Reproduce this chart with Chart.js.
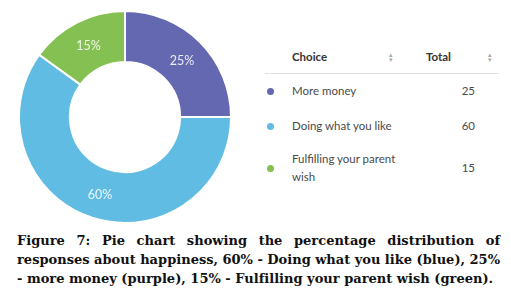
<!DOCTYPE html>
<html>
<head>
<meta charset="utf-8">
<script src="https://cdn.jsdelivr.net/npm/chart.js@4"></script>
<style>
    html, body { margin: 0; padding: 0; background: #fff; }
    body { width: 511px; height: 294px; position: relative; overflow: hidden; }
    #chartBox { position: absolute; left: 18px; top: 10px; width: 214px; height: 214px; }
    #choiceTable { position: absolute; left: 265px; top: 47px; width: 234px; font-family: Lato, sans-serif; font-size: 11.5px; color: #4a4a4a; }
    .hdr { position: relative; height: 26px; border-bottom: 1px solid #e3e3e3; font-weight: bold; color: #333; }
    .hdr span { position: absolute; top: 3px; }
    .sort { color: #aaa; font-size: 7px; font-weight: normal; line-height: 5px; }
    #rows { position: relative; }
    .row { position: absolute; left: 0; width: 234px; }
    .row .dot { position: absolute; left: 2px; width: 7px; height: 7px; border-radius: 50%; }
    .row .lbl { position: absolute; left: 27px; width: 125px; line-height: 18px; }
    .row .val { position: absolute; right: 24px; line-height: 18px; }
    #caption { position: absolute; left: 17px; top: 231px; width: 483px; font-family: "DejaVu Serif", serif; font-weight: bold; font-size: 13px; line-height: 19px; color: #111; }
    #caption div { white-space: nowrap; }
    #caption span { display: inline-block; }
</style>
</head>
<body>
<div id="chartBox"><canvas id="happyChart" width="214" height="214"></canvas></div>

<div id="choiceTable">
    <div class="hdr">
        <span style="left:27px">Choice</span>
        <span class="sort" style="left:124px; top:5px">&#9652;<br>&#9662;</span>
        <span style="left:161px">Total</span>
        <span class="sort" style="left:223px; top:5px">&#9652;<br>&#9662;</span>
    </div>
    <div id="rows"></div>
</div>

<div id="caption">
    <div><span class="capLine">Figure 7: Pie chart showing the percentage distribution of</span></div>
    <div><span class="capLine">responses about happiness, 60% - Doing what you like (blue), 25%</span></div>
    <div><span class="capLine">- more money (purple), 15% - Fulfilling your parent wish (green).</span></div>
</div>

<script>
const choices = ['More money', 'Doing what you like', 'Fulfilling your parent wish'];
const totals = [25, 60, 15];
const sliceColors = ['#6468b1', '#60bce2', '#85c152'];

// table rows, built from the same arrays
const rowTops = [8, 43, 76];
const rowsEl = document.getElementById('rows');
choices.forEach(function (name, i) {
    const row = document.createElement('div');
    row.className = 'row';
    row.style.top = rowTops[i] + 'px';
    const mid = i === 2 ? 18 : 9;
    row.innerHTML =
        '<span class="dot" style="top:' + (mid - 3) + 'px;background:' + sliceColors[i] + '"></span>' +
        '<span class="lbl" style="top:0">' + name + '</span>' +
        '<span class="val" style="top:' + (mid - 9) + 'px">' + totals[i] + '</span>';
    rowsEl.appendChild(row);
});

// fit the caption: last line ends at 475px, the others are justified to 483px
const capLines = document.querySelectorAll('.capLine');
const lineWidths = [483, 483, 475];
const last = capLines[2];
const ls = (475 - last.getBoundingClientRect().width) / last.textContent.length;
document.getElementById('caption').style.letterSpacing = ls.toFixed(3) + 'px';
capLines.forEach(function (el, i) {
    if (i === 2) return;
    const spaces = (el.textContent.match(/ /g) || []).length;
    const extra = (lineWidths[i] - el.getBoundingClientRect().width) / spaces;
    el.style.wordSpacing = extra.toFixed(3) + 'px';
});

const sum = totals.reduce((a, b) => a + b, 0);

// percentage text in the middle of each slice
const sliceLabels = {
    id: 'sliceLabels',
    afterDatasetsDraw(chart) {
        const ctx = chart.ctx;
        const meta = chart.getDatasetMeta(0);
        ctx.save();
        ctx.font = '12.5px Lato, sans-serif';
        ctx.fillStyle = 'rgba(255,255,255,0.88)';
        ctx.textAlign = 'center';
        ctx.textBaseline = 'middle';
        meta.data.forEach(function (arc, i) {
            const p = arc.tooltipPosition();
            ctx.fillText(Math.round(totals[i] / sum * 100) + '%', p.x, p.y + 1);
        });
        ctx.restore();
    }
};

new Chart(document.getElementById('happyChart'), {
    type: 'doughnut',
    data: {
        labels: choices,
        datasets: [{
            data: totals,
            backgroundColor: sliceColors,
            borderColor: '#fff',
            borderWidth: 2
        }]
    },
    options: {
        responsive: false,
        animation: false,
        cutout: '52%',
        plugins: { legend: { display: false }, tooltip: { enabled: false } }
    },
    plugins: [sliceLabels]
});
</script>
</body>
</html>
